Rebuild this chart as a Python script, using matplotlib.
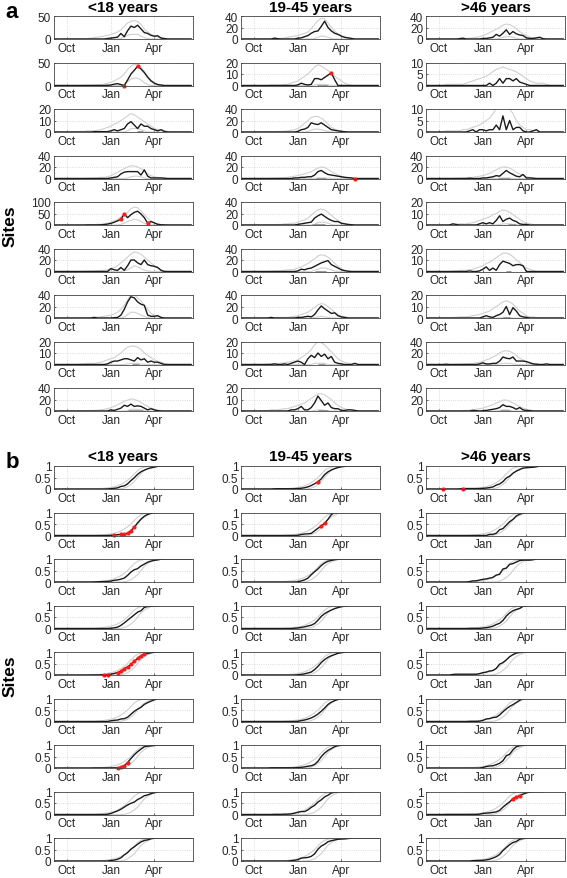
import numpy as np
import matplotlib
matplotlib.use('Agg')
import matplotlib.pyplot as plt

plt.rcParams['font.family'] = ['Liberation Sans', 'DejaVu Sans']

# semanas desde principios de septiembre (k = 0..41); datos guardados de k=6 a k=37
N_WEEKS = 42
FIRST = 6
B_FIRST = 13  # curvas grises del panel b guardadas de k=13 a k=32

groups = ['<18 years', '19-45 years', '>46 years']
month_ticks = [3.86, 17.0, 29.86]
month_labels = ['Oct', 'Jan', 'Apr']

# ---------------- panel a: casos semanales ----------------
ymax_u18 = [50, 50, 20, 40, 100, 40, 40, 20, 40]
ymax_1945 = [40, 20, 40, 40, 40, 40, 40, 20, 20]
ymax_46 = [40, 10, 10, 40, 20, 20, 20, 40, 40]

black_u18 = [
    [0, 0, 0, 0, 0, 0, 0, 0, 0, 0, 1, 2, 3, 4, 12, 5, 18, 28, 25, 30, 22, 14, 12, 8, 6, 7, 2, 1, 0, 0, 0, 0],
    [0, 0, 0, 0, 0, 0, 0, 0, 0, 0, 0.5, 1, 3, 4, 2, 0, 12, 25, 33, 42, 36, 28, 18, 10, 5, 2, 1, 0, 0, 0, 0, 0],
    [0, 0, 0, 0, 0, 0, 0.3, 0.3, 0.3, 0.3, 0.3, 1, 2, 1, 2, 3, 7, 9, 6, 3, 7, 5, 5, 3, 2, 1, 2, 0.5, 0, 0, 0, 0],
    [0, 0, 0, 0, 0, 0, 0, 0, 0, 0, 0, 1, 2, 3, 8, 11, 12, 12, 12, 12, 6, 15, 4, 1, 1, 1, 1, 0.5, 0, 0, 0, 0],
    [0, 0, 0, 0, 0.5, 0.5, 0.5, 0.5, 1, 2, 4, 7, 12, 18, 25, 48, 32, 45, 55, 60, 48, 32, 8, 15, 9, 3, 1, 0.5, 0, 0, 0, 0],
    [0, 0, 0, 0, 0, 0, 0, 0, 0, 0, 0, 5, 3, 2, 7, 2, 10, 20, 20, 15, 12, 20, 12, 10, 9, 7, 2, 0, 0, 0, 0, 0],
    [0, 0, 0, 0, 0, 0, 1, 0, 0, 0, 0, 0, 0.5, 1, 5, 15, 28, 37, 35, 28, 24, 22, 5, 3, 3, 4, 1, 0, 0, 0, 0, 0],
    [0, 0, 0, 0, 0, 0, 0, 0, 0, 0, 0.5, 2, 3, 3, 4, 5, 5, 4, 3, 6, 4, 5, 2, 3, 2, 2, 1, 0, 0, 0, 0, 0],
    [0, 0, 0, 0, 0, 0, 0, 0, 0, 0, 0, 2, 1, 3, 5, 10, 8, 12, 8, 9, 8, 5, 2, 4, 2, 0.5, 0, 0, 0, 0, 0, 0],
]
black_1945 = [
    [0, 0, 0, 0, 1.5, 0.5, 0, 0, 0, 0, 0, 1.5, 2, 4, 6, 10, 13, 14, 22, 31, 20, 14, 10, 8, 5, 3, 2, 1, 0, 0, 0, 0],
    [0, 0, 0, 0, 0, 0, 0, 0, 0, 0, 0, 0.5, 2, 1, 0.5, 1, 6, 6, 5, 7, 9, 11, 5, 0, 0, 0, 0, 0, 0, 0, 0, 0],
    [0, 0, 0, 0, 0, 0, 0, 0, 0, 0, 0, 1, 4, 5, 8, 16, 14, 13, 16, 12, 8, 4, 3, 2, 1, 0.5, 0, 0, 0, 0, 0, 0],
    [0, 0, 0, 0, 0, 0, 0, 0, 0, 0, 1, 1, 2, 2, 3, 3, 6, 12, 14, 10, 7, 6, 5, 4, 3, 2, 1.5, 1, 0, 0, 0, 0],
    [0, 0, 0, 0, 0, 0, 0, 0, 0, 0, 0, 1, 2, 3, 4, 5, 12, 16, 19, 15, 11, 8, 6, 6, 3, 2, 1, 0.5, 0, 0, 0, 0],
    [0, 0, 0, 0, 0, 0, 0, 0, 0, 0, 0, 1, 4, 3, 5, 6, 9, 12, 15, 17, 19, 12, 9, 6, 3, 1.5, 0.5, 0, 0, 0, 0, 0],
    [0, 0, 0, 1, 0, 0, 0, 0, 0, 0, 0, 1, 1, 2, 3, 2, 6, 14, 21, 16, 12, 8, 9, 4, 2, 1, 0, 0, 0, 0, 0, 0],
    [0, 0, 0, 0, 0.5, 0, 0, 0.5, 0, 1, 2, 3, 2, 0, 5, 8, 6, 10, 7, 9, 5, 7, 2, 1, 0.5, 0, 0, 0, 1, 0, 0, 0],
    [0, 0, 0, 0, 0, 0, 0, 0, 0, 1, 1, 2, 4, 1, 1, 3, 7, 13, 9, 5, 7, 3, 2, 2, 0.5, 0.5, 1, 1, 0.5, 0, 0, 0],
]
black_46 = [
    [0, 0, 0, 0, 0.5, 1.5, 0, 0, 0, 0, 0, 1, 1, 2, 3, 8, 5, 10, 16, 8, 13, 9, 7, 6, 2, 1, 1, 2, 3, 0.5, 0, 0],
    [0, 0, 0, 0, 0, 0, 0, 0, 0, 0, 0, 0, 0, 1, 0, 1, 3, 1, 3, 3, 2, 3, 1.5, 1, 0.5, 0, 0, 0, 0, 0, 0, 0],
    [0, 0, 0, 0, 0, 0, 0, 0.5, 1, 0, 1, 1, 0.5, 1, 1, 3, 1, 7, 1, 5, 1, 2, 2, 0.5, 0, 0, 0.5, 1, 0, 0, 0, 0],
    [0, 0, 0, 0, 0, 0, 0, 0.5, 0, 0, 0, 1, 1, 2, 3, 5, 4, 9, 14, 10, 7, 4, 3, 7, 1, 1, 0.5, 0, 0, 0, 0, 0],
    [0, 0, 1, 0.5, 0, 0, 0, 0, 0, 0, 1, 2, 1, 2, 1, 4, 8, 3, 5, 6, 4, 3, 1, 0.5, 0.5, 0, 0, 0, 0, 0, 0, 0],
    [0, 0, 0, 0, 0, 0, 0, 0.5, 0, 0, 0.5, 2, 4, 1, 3, 1, 6, 9, 8, 7, 5, 6, 6, 5, 0, 0, 0, 0, 0, 0, 0, 0],
    [0, 0, 0, 0, 0, 0, 0, 0, 0, 0, 0, 1, 2, 1, 0.5, 2, 3, 5, 10, 3, 9, 6, 2, 1, 0.5, 0, 0, 0, 0, 0, 0, 0],
    [0.5, 0, 0, 0, 0, 0, 0, 0, 0, 0, 1, 3, 1, 1, 2, 2, 6, 13, 11, 10, 13, 6, 6, 6, 5, 3, 1, 0.5, 0, 0, 1, 0],
    [0, 0, 0, 0, 0, 0, 0, 0, 1, 0.5, 0, 0.5, 1, 2, 3, 4, 6, 11, 8, 8, 6, 3, 6, 2, 1, 0.5, 0, 0, 0, 0, 0, 0],
]

upper_u18 = [
    [0, 0, 1, 1, 1, 2, 3, 4, 5, 6, 8, 10, 12, 15, 20, 28, 35, 38, 40, 38, 32, 22, 15, 10, 7, 4, 2, 1, 0, 0, 0, 0],
    [0, 0, 0.5, 0.5, 1, 1, 1.5, 2, 2, 3, 5, 7, 10, 14, 18, 25, 35, 42, 46, 45, 40, 30, 20, 12, 6, 3, 1, 0, 0, 0, 0, 0],
    [0, 0, 0.5, 0.5, 1, 1, 1, 1.5, 2, 3, 4, 5, 7, 8, 10, 12, 14, 16, 15, 13, 11, 9, 7, 5, 3, 2, 2, 1, 0.5, 0, 0, 0],
    [0, 0, 0, 0, 0.5, 0.5, 1, 1, 2, 2, 3, 5, 8, 11, 14, 17, 20, 22, 22, 20, 17, 14, 8, 5, 3, 2, 1, 0, 0, 0, 0, 0],
    [0, 0, 0, 1, 1, 2, 2, 3, 3, 5, 8, 12, 18, 25, 35, 45, 55, 70, 78, 75, 62, 45, 30, 18, 10, 5, 2, 1, 0, 0, 0, 0],
    [0, 0, 0, 0.5, 0.5, 1, 1, 1.5, 2, 2, 3, 5, 7, 10, 15, 20, 25, 30, 34, 33, 30, 25, 20, 15, 10, 6, 3, 1, 0, 0, 0, 0],
    [0, 0, 0, 0.5, 0.5, 1, 1, 1.5, 2, 3, 4, 5, 7, 10, 15, 22, 32, 40, 40, 35, 30, 22, 15, 8, 5, 3, 1, 0, 0, 0, 0, 0],
    [0, 0, 0.5, 0.5, 1, 1, 1, 1.5, 2, 3, 4, 5, 6, 8, 10, 13, 15, 16, 16, 15, 13, 10, 8, 6, 4, 3, 2, 1, 0, 0, 0, 0],
    [0, 0, 0, 0.5, 0.5, 1, 1, 1.5, 2, 3, 4, 6, 8, 11, 14, 17, 19, 21, 20, 18, 15, 11, 8, 5, 3, 2, 1, 0, 0, 0, 0, 0],
]
upper_1945 = [
    [0, 0, 0, 0.5, 0.5, 1, 1, 2, 3, 4, 5, 6, 8, 10, 12, 18, 25, 32, 36, 35, 28, 20, 14, 9, 5, 3, 1, 0, 0, 0, 0, 0],
    [0, 0, 0, 0.5, 0.5, 0.5, 0.5, 1, 1, 2, 3, 4, 6, 8, 10, 13, 16, 18, 17, 15, 13, 11, 8, 6, 4, 2, 1, 0, 0, 0, 0, 0],
    [0, 0, 0, 0.5, 0.5, 1, 1, 1.5, 2, 3, 4, 6, 10, 15, 20, 25, 27, 27, 24, 20, 14, 8, 5, 3, 1, 0.5, 0, 0, 0, 0, 0, 0],
    [0, 0, 0, 0.5, 0.5, 1, 1, 1.5, 2, 3, 4, 5, 7, 8, 10, 12, 15, 18, 20, 19, 16, 12, 9, 6, 4, 2, 1, 0, 0, 0, 0, 0],
    [0, 0, 0, 0.5, 0.5, 1, 1, 2, 2, 3, 3, 5, 7, 9, 12, 17, 22, 26, 28, 26, 22, 17, 12, 8, 4, 2, 1, 0, 0, 0, 0, 0],
    [0, 0, 0, 0.5, 0.5, 1, 1, 2, 3, 3, 4, 6, 8, 11, 14, 18, 22, 27, 29, 28, 25, 20, 14, 9, 5, 2, 1, 0, 0, 0, 0, 0],
    [0, 0, 0, 0.5, 0.5, 1, 1, 1, 1, 2, 3, 4, 6, 8, 10, 14, 18, 23, 25, 24, 20, 15, 10, 6, 3, 2, 1, 0, 0, 0, 0, 0],
    [0, 0, 0.5, 0.5, 1, 1, 1, 1.5, 2, 2.5, 3, 4, 6, 8, 10, 13, 17, 20, 19, 17, 14, 11, 8, 5, 3, 2, 1, 0.5, 0, 0, 0, 0],
    [0, 0.5, 0.5, 1, 1, 1, 1.5, 2, 2, 3, 4, 5, 6, 7, 9, 11, 13, 15, 15, 14, 12, 10, 7, 5, 3, 2, 1, 0.5, 0, 0, 0, 0],
]
upper_46 = [
    [0, 0, 0, 0.5, 0.5, 1, 1, 1.5, 2, 3, 4, 6, 8, 11, 14, 17, 20, 24, 26, 25, 22, 18, 13, 9, 6, 3, 2, 1, 0, 0, 0, 0],
    [0.5, 0.5, 0.5, 0.5, 0.5, 0.5, 1, 1.5, 2, 2.5, 3, 3.5, 4, 5, 6, 7, 7.5, 8, 7.5, 7, 6.5, 6, 5, 4, 3, 2, 1.5, 1, 1, 1, 0.5, 0],
    [0.5, 0.5, 0.5, 0.5, 0.5, 1, 1, 1.5, 2, 2.5, 3, 4, 5, 6, 8, 10, 11, 13, 12, 10, 8, 5, 3, 2, 1, 1, 0.5, 0.5, 0, 0, 0, 0],
    [0, 0, 0, 0.5, 0.5, 1, 1, 1.5, 2, 3, 4, 5, 7, 9, 12, 15, 18, 20, 20, 18, 15, 11, 8, 6, 3, 2, 1, 0, 0, 0, 0, 0],
    [0, 0, 0.5, 0.5, 1, 1, 1, 1.5, 2, 3, 4, 5, 6, 7, 9, 10, 12, 13, 12.5, 11, 9, 7, 5, 3, 2, 1, 0.5, 0, 0, 0, 0, 0],
    [0, 0, 0.5, 0.5, 1, 1, 1, 1.5, 2, 3, 4, 5, 7, 8, 10, 12, 14, 16, 16, 15, 13, 10, 8, 5, 3, 2, 1, 0, 0, 0, 0, 0],
    [0, 0, 0.5, 0.5, 1, 1, 1, 1.5, 2, 2.5, 3, 4, 5, 6, 8, 10, 12, 14, 15, 14, 12, 9, 6, 4, 2, 1, 1, 0.5, 0, 0, 0, 0],
    [0, 0, 0, 0.5, 0.5, 1, 1, 1.5, 2, 3, 4, 6, 8, 10, 13, 16, 20, 23, 24, 23, 20, 16, 11, 8, 5, 3, 2, 1, 0, 0, 0, 0],
    [0, 0, 0, 0.5, 0.5, 1, 1, 1.5, 2, 3, 4, 5, 7, 9, 11, 14, 16, 19, 19, 17, 14, 11, 8, 5, 3, 2, 1, 0, 0, 0, 0, 0],
]

lower_u18 = [
    [0] * 14 + [1, 4, 8, 10, 10, 10, 6, 3, 1] + [0] * 9,
    [0] * 15 + [2, 8, 14, 16, 16, 12, 6, 2] + [0] * 9,
    [0] * 16 + [1, 3, 3, 3, 2, 1] + [0] * 10,
    [0] * 16 + [1, 3, 4, 4, 3, 1] + [0] * 10,
    [0] * 14 + [3, 8, 15, 20, 25, 22, 15, 8, 3, 1] + [0] * 8,
    [0] * 15 + [1, 3, 6, 10, 8, 5, 2, 1] + [0] * 9,
    [0] * 15 + [2, 6, 10, 10, 8, 5, 3, 1] + [0] * 9,
    [0] * 16 + [0.5, 1, 1, 1, 0.5] + [0] * 11,
    [0] * 16 + [1, 3, 3, 3, 2, 1] + [0] * 10,
]
lower_1945 = [
    [0] * 16 + [1, 3, 5, 5, 3, 1] + [0] * 10,
    [0] * 16 + [0.5, 1, 1, 1, 0.5] + [0] * 11,
    [0] * 14 + [1, 3, 5, 5, 4, 2, 1] + [0] * 11,
    [0] * 16 + [0.5, 1, 1, 1, 0.5] + [0] * 11,
    [0] * 16 + [1, 4, 5, 5, 3, 1] + [0] * 10,
    [0] * 16 + [2, 4, 6, 6, 5, 3, 1] + [0] * 9,
    [0] * 16 + [1, 2, 3, 2, 1] + [0] * 11,
    [0] * 16 + [1, 1, 1, 1] + [0] * 12,
    [0] * 16 + [0.5, 1, 1, 0.5] + [0] * 12,
]
lower_46 = [
    [0] * 16 + [1, 3, 4, 4, 3, 1] + [0] * 10,
    [0] * 32,
    [0] * 32,
    [0] * 16 + [0.5, 1, 1, 1] + [0] * 12,
    [0] * 16 + [0.5, 1, 1, 1, 0.5] + [0] * 11,
    [0] * 32,
    [0] * 17 + [0.5, 0.5] + [0] * 13,
    [0] * 16 + [1, 2, 2, 2, 1] + [0] * 11,
    [0] * 16 + [1, 2, 2, 1] + [0] * 12,
]

# barra gris en y=0 (semana inicio, semana fin)
bars_u18 = [None, None, (24.8, 26.6), None, None, None, None, (23.2, 25.5), (22.2, 26.7)]
bars_1945 = [None, (22.7, 26.0), None, (22.5, 25.5), (21.1, 25.1), (22.0, 25.5), None, (23.0, 25.0), (23.0, 26.0)]
bars_46 = [None, None, None, (21.6, 25.1), (24.4, 26.8), (24.0, 25.5), (23.0, 25.0), None, (22.0, 25.0)]

# semanas marcadas en rojo
red_a_u18 = [[], [21, 25], [], [], [20, 21, 28], [], [], [], []]
red_a_1945 = [[], [27], [], [34], [], [], [], [], []]
red_a_46 = [[], [], [], [], [], [], [], [], []]

# ---------------- panel b: proporcion acumulada ----------------
red_b_u18 = [[], [18, 20, 21, 22, 23, 24], [], [], [15, 16, 19, 20, 21, 22, 23, 24, 25, 26, 27], [], [19, 20, 21, 22], [], []]
red_b_1945 = [[23], [24, 25], [], [], [], [], [], [], []]
red_b_46 = [[5, 11], [], [], [], [], [], [], [26, 27, 28], []]

early_u18 = [
    [0.01, 0.02, 0.03, 0.05, 0.07, 0.1, 0.14, 0.2, 0.28, 0.38, 0.5, 0.65, 0.8, 0.9, 0.95, 0.98, 1, 1, 1, 1],
    [0.01, 0.02, 0.03, 0.05, 0.07, 0.1, 0.14, 0.2, 0.28, 0.38, 0.5, 0.65, 0.8, 0.9, 0.95, 0.98, 1, 1, 1, 1],
    [0.02, 0.03, 0.05, 0.07, 0.1, 0.14, 0.2, 0.28, 0.38, 0.5, 0.65, 0.8, 0.9, 0.95, 0.98, 1, 1, 1, 1, 1],
    [0.02, 0.03, 0.05, 0.07, 0.1, 0.14, 0.2, 0.28, 0.38, 0.5, 0.65, 0.8, 0.9, 0.95, 0.98, 1, 1, 1, 1, 1],
    [0.02, 0.03, 0.05, 0.07, 0.1, 0.14, 0.2, 0.28, 0.38, 0.5, 0.65, 0.8, 0.9, 0.95, 0.98, 1, 1, 1, 1, 1],
    [0.02, 0.03, 0.05, 0.07, 0.1, 0.14, 0.2, 0.28, 0.38, 0.5, 0.65, 0.8, 0.9, 0.95, 0.98, 1, 1, 1, 1, 1],
    [0.01, 0.02, 0.03, 0.05, 0.07, 0.1, 0.14, 0.2, 0.28, 0.38, 0.5, 0.65, 0.8, 0.9, 0.95, 0.98, 1, 1, 1, 1],
    [0.02, 0.03, 0.05, 0.07, 0.1, 0.14, 0.2, 0.28, 0.38, 0.5, 0.65, 0.8, 0.9, 0.95, 0.98, 1, 1, 1, 1, 1],
    [0.01, 0.02, 0.03, 0.05, 0.07, 0.1, 0.14, 0.2, 0.28, 0.38, 0.5, 0.65, 0.8, 0.9, 0.95, 0.98, 1, 1, 1, 1],
]
late_u18 = [
    [0, 0, 0, 0, 0, 0, 0, 0.01, 0.04, 0.1, 0.2, 0.32, 0.5, 0.68, 0.8, 0.88, 0.95, 0.98, 1, 1],
    [0, 0, 0, 0, 0, 0, 0, 0.01, 0.04, 0.1, 0.2, 0.32, 0.5, 0.68, 0.8, 0.88, 0.95, 0.98, 1, 1],
    [0, 0, 0, 0, 0, 0, 0, 0, 0.01, 0.04, 0.1, 0.2, 0.32, 0.5, 0.68, 0.8, 0.88, 0.95, 0.98, 1],
    [0, 0, 0, 0, 0, 0, 0, 0.01, 0.04, 0.1, 0.2, 0.32, 0.5, 0.68, 0.8, 0.88, 0.95, 0.98, 1, 1],
    [0, 0, 0, 0, 0, 0, 0, 0.01, 0.04, 0.1, 0.2, 0.32, 0.5, 0.68, 0.8, 0.88, 0.95, 0.98, 1, 1],
    [0, 0, 0, 0, 0, 0, 0, 0.01, 0.04, 0.1, 0.2, 0.32, 0.5, 0.68, 0.8, 0.88, 0.95, 0.98, 1, 1],
    [0, 0, 0, 0, 0, 0, 0, 0.01, 0.04, 0.1, 0.2, 0.32, 0.5, 0.68, 0.8, 0.88, 0.95, 0.98, 1, 1],
    [0, 0, 0, 0, 0, 0, 0, 0, 0.01, 0.04, 0.1, 0.2, 0.32, 0.5, 0.68, 0.8, 0.88, 0.95, 0.98, 1],
    [0, 0, 0, 0, 0, 0, 0, 0.01, 0.04, 0.1, 0.2, 0.32, 0.5, 0.68, 0.8, 0.88, 0.95, 0.98, 1, 1],
]
early_1945 = [
    [0.01, 0.02, 0.03, 0.05, 0.07, 0.1, 0.14, 0.2, 0.28, 0.38, 0.5, 0.65, 0.8, 0.9, 0.95, 0.98, 1, 1, 1, 1],
    [0.01, 0.02, 0.03, 0.05, 0.07, 0.1, 0.14, 0.2, 0.28, 0.38, 0.5, 0.65, 0.8, 0.9, 0.95, 0.98, 1, 1, 1, 1],
    [0.02, 0.03, 0.05, 0.07, 0.1, 0.14, 0.2, 0.28, 0.38, 0.5, 0.65, 0.8, 0.9, 0.95, 0.98, 1, 1, 1, 1, 1],
    [0.01, 0.02, 0.03, 0.05, 0.07, 0.1, 0.14, 0.2, 0.28, 0.38, 0.5, 0.65, 0.8, 0.9, 0.95, 0.98, 1, 1, 1, 1],
    [0.01, 0.02, 0.03, 0.05, 0.07, 0.1, 0.14, 0.2, 0.28, 0.38, 0.5, 0.65, 0.8, 0.9, 0.95, 0.98, 1, 1, 1, 1],
    [0.01, 0.02, 0.03, 0.05, 0.07, 0.1, 0.14, 0.2, 0.28, 0.38, 0.5, 0.65, 0.8, 0.9, 0.95, 0.98, 1, 1, 1, 1],
    [0.01, 0.02, 0.03, 0.05, 0.07, 0.1, 0.14, 0.2, 0.28, 0.38, 0.5, 0.65, 0.8, 0.9, 0.95, 0.98, 1, 1, 1, 1],
    [0.02, 0.03, 0.05, 0.07, 0.1, 0.14, 0.2, 0.28, 0.38, 0.5, 0.65, 0.8, 0.9, 0.95, 0.98, 1, 1, 1, 1, 1],
    [0.02, 0.03, 0.05, 0.07, 0.1, 0.14, 0.2, 0.28, 0.38, 0.5, 0.65, 0.8, 0.9, 0.95, 0.98, 1, 1, 1, 1, 1],
]
late_1945 = [
    [0, 0, 0, 0, 0, 0, 0, 0.01, 0.04, 0.1, 0.2, 0.32, 0.5, 0.68, 0.8, 0.88, 0.95, 0.98, 1, 1],
    [0, 0, 0, 0, 0, 0, 0, 0.01, 0.04, 0.1, 0.2, 0.32, 0.5, 0.68, 0.8, 0.88, 0.95, 0.98, 1, 1],
    [0, 0, 0, 0, 0, 0, 0.01, 0.04, 0.1, 0.2, 0.32, 0.5, 0.68, 0.8, 0.88, 0.95, 0.98, 1, 1, 1],
    [0, 0, 0, 0, 0, 0, 0, 0.01, 0.04, 0.1, 0.2, 0.32, 0.5, 0.68, 0.8, 0.88, 0.95, 0.98, 1, 1],
    [0, 0, 0, 0, 0, 0, 0, 0.01, 0.04, 0.1, 0.2, 0.32, 0.5, 0.68, 0.8, 0.88, 0.95, 0.98, 1, 1],
    [0, 0, 0, 0, 0, 0, 0, 0.01, 0.04, 0.1, 0.2, 0.32, 0.5, 0.68, 0.8, 0.88, 0.95, 0.98, 1, 1],
    [0, 0, 0, 0, 0, 0, 0, 0.01, 0.04, 0.1, 0.2, 0.32, 0.5, 0.68, 0.8, 0.88, 0.95, 0.98, 1, 1],
    [0, 0, 0, 0, 0, 0, 0, 0.01, 0.04, 0.1, 0.2, 0.32, 0.5, 0.68, 0.8, 0.88, 0.95, 0.98, 1, 1],
    [0, 0, 0, 0, 0, 0, 0, 0.01, 0.04, 0.1, 0.2, 0.32, 0.5, 0.68, 0.8, 0.88, 0.95, 0.98, 1, 1],
]
early_46 = [
    [0.01, 0.02, 0.03, 0.05, 0.07, 0.1, 0.14, 0.2, 0.28, 0.38, 0.5, 0.65, 0.8, 0.9, 0.95, 0.98, 1, 1, 1, 1],
    [0.01, 0.02, 0.03, 0.05, 0.07, 0.1, 0.14, 0.2, 0.28, 0.38, 0.5, 0.65, 0.8, 0.9, 0.95, 0.98, 1, 1, 1, 1],
    [0.01, 0.02, 0.03, 0.05, 0.07, 0.1, 0.14, 0.2, 0.28, 0.38, 0.5, 0.65, 0.8, 0.9, 0.95, 0.98, 1, 1, 1, 1],
    [0.01, 0.02, 0.03, 0.05, 0.07, 0.1, 0.14, 0.2, 0.28, 0.38, 0.5, 0.65, 0.8, 0.9, 0.95, 0.98, 1, 1, 1, 1],
    [0.01, 0.02, 0.03, 0.05, 0.07, 0.1, 0.14, 0.2, 0.28, 0.38, 0.5, 0.65, 0.8, 0.9, 0.95, 0.98, 1, 1, 1, 1],
    [0.01, 0.02, 0.03, 0.05, 0.07, 0.1, 0.14, 0.2, 0.28, 0.38, 0.5, 0.65, 0.8, 0.9, 0.95, 0.98, 1, 1, 1, 1],
    [0.01, 0.02, 0.03, 0.05, 0.07, 0.1, 0.14, 0.2, 0.28, 0.38, 0.5, 0.65, 0.8, 0.9, 0.95, 0.98, 1, 1, 1, 1],
    [0.01, 0.02, 0.03, 0.05, 0.07, 0.1, 0.14, 0.2, 0.28, 0.38, 0.5, 0.65, 0.8, 0.9, 0.95, 0.98, 1, 1, 1, 1],
    [0.01, 0.02, 0.03, 0.05, 0.07, 0.1, 0.14, 0.2, 0.28, 0.38, 0.5, 0.65, 0.8, 0.9, 0.95, 0.98, 1, 1, 1, 1],
]
late_46 = [
    [0, 0, 0, 0, 0, 0, 0, 0.01, 0.04, 0.1, 0.2, 0.32, 0.5, 0.68, 0.8, 0.88, 0.95, 0.98, 1, 1],
    [0, 0, 0, 0, 0, 0, 0, 0.01, 0.04, 0.1, 0.2, 0.32, 0.5, 0.68, 0.8, 0.88, 0.95, 0.98, 1, 1],
    [0, 0, 0, 0, 0, 0, 0, 0, 0.01, 0.04, 0.1, 0.2, 0.32, 0.5, 0.68, 0.8, 0.88, 0.95, 0.98, 1],
    [0, 0, 0, 0, 0, 0, 0, 0.01, 0.04, 0.1, 0.2, 0.32, 0.5, 0.68, 0.8, 0.88, 0.95, 0.98, 1, 1],
    [0, 0, 0, 0, 0, 0, 0, 0.01, 0.04, 0.1, 0.2, 0.32, 0.5, 0.68, 0.8, 0.88, 0.95, 0.98, 1, 1],
    [0, 0, 0, 0, 0, 0, 0, 0.01, 0.04, 0.1, 0.2, 0.32, 0.5, 0.68, 0.8, 0.88, 0.95, 0.98, 1, 1],
    [0, 0, 0, 0, 0, 0, 0, 0.01, 0.04, 0.1, 0.2, 0.32, 0.5, 0.68, 0.8, 0.88, 0.95, 0.98, 1, 1],
    [0, 0, 0, 0, 0, 0, 0, 0.01, 0.04, 0.1, 0.2, 0.32, 0.5, 0.68, 0.8, 0.88, 0.95, 0.98, 1, 1],
    [0, 0, 0, 0, 0, 0, 0, 0.01, 0.04, 0.1, 0.2, 0.32, 0.5, 0.68, 0.8, 0.88, 0.95, 0.98, 1, 1],
]

black_all = [black_u18, black_1945, black_46]
upper_all = [upper_u18, upper_1945, upper_46]
lower_all = [lower_u18, lower_1945, lower_46]
ymax_all = [ymax_u18, ymax_1945, ymax_46]
bars_all = [bars_u18, bars_1945, bars_46]
red_a_all = [red_a_u18, red_a_1945, red_a_46]
red_b_all = [red_b_u18, red_b_1945, red_b_46]
early_all = [early_u18, early_1945, early_46]
late_all = [late_u18, late_1945, late_46]


def weekly(vals):
    out = np.zeros(N_WEEKS)
    out[FIRST:FIRST + len(vals)] = vals
    return out


def cumulative_grey(vals):
    out = np.ones(N_WEEKS)
    out[:B_FIRST] = 0
    out[B_FIRST:B_FIRST + len(vals)] = vals
    return out


# ---------------- figura ----------------
W, H = 567, 879
fig = plt.figure(figsize=(W / 100, H / 100), dpi=100)

col_left = [54, 241, 426]
ax_w, ax_h = 139, 23
row_step = 46.5
top_a, top_b = 17, 467

weeks = np.arange(N_WEEKS)
BLACK = '#1a1a1a'
GREY = '#d0d0d0'
RED = '#ff1a1a'


def style_axes(ax, ymax, yticks):
    ax.set_xlim(0, 41.55)
    ax.set_ylim(0, ymax)
    ax.set_xticks(month_ticks)
    ax.set_xticklabels(month_labels)
    ax.set_yticks(yticks)
    ax.set_yticklabels([f'{t:g}' for t in yticks])
    ax.grid(True, ls=':', color='#cfcfcf', lw=0.6)
    ax.tick_params(direction='in', length=1.5, width=0.5, labelsize=8.5,
                   colors='#262626', pad=2)
    for sp in ax.spines.values():
        sp.set_color('#454545')
        sp.set_linewidth(0.6)


def make_ax(col, top):
    return fig.add_axes([col_left[col] / W, 1 - (top + ax_h) / H, ax_w / W, ax_h / H])


for c in range(3):
    for r in range(9):
        # panel a
        ax = make_ax(c, top_a + r * row_step)
        black = weekly(black_all[c][r])
        ax.plot(weeks, weekly(upper_all[c][r]), color=GREY, lw=0.8)
        ax.plot(weeks, weekly(lower_all[c][r]), color=GREY, lw=0.8)
        bar = bars_all[c][r]
        if bar is not None:
            ax.plot(bar, [0, 0], color='#9a9a9a', lw=2.2, solid_capstyle='butt')
        ax.plot(weeks, black, color=BLACK, lw=1.0)
        red = red_a_all[c][r]
        if red:
            ax.plot(red, black[red], 'o', color=RED, ms=3, mec='none', clip_on=False)
        ymax = ymax_all[c][r]
        yt = [0, 50] if ymax == 50 else [0, ymax / 2, ymax]
        style_axes(ax, ymax, yt)

        # panel b
        ax = make_ax(c, top_b + r * row_step)
        cum = np.cumsum(black) / black.sum()
        ax.plot(weeks, cumulative_grey(early_all[c][r]), color=GREY, lw=0.8)
        ax.plot(weeks, cumulative_grey(late_all[c][r]), color=GREY, lw=0.8)
        ax.plot(weeks, cum, color=BLACK, lw=1.0)
        red = red_b_all[c][r]
        if red:
            ax.plot(red, cum[red], 'o', color=RED, ms=3, mec='none', clip_on=False)
        style_axes(ax, 1, [0, 0.5, 1])

# titulos de columnas
for c, g in enumerate(groups):
    xc = (col_left[c] + ax_w / 2) / W
    fig.text(xc, 1 - 8 / H, g, ha='center', va='center', fontsize=11, fontweight='bold')
    fig.text(xc, 1 - 457 / H, g, ha='center', va='center', fontsize=11, fontweight='bold')

fig.text(12 / W, 1 - 13 / H, 'a', ha='center', va='center', fontsize=16, fontweight='bold')
fig.text(12 / W, 1 - 462 / H, 'b', ha='center', va='center', fontsize=16, fontweight='bold')
fig.text(10 / W, 1 - 226 / H, 'Sites', ha='center', va='center', rotation=90,
         fontsize=12.5, fontweight='bold')
fig.text(10 / W, 1 - 676 / H, 'Sites', ha='center', va='center', rotation=90,
         fontsize=12.5, fontweight='bold')

fig.savefig('out.png', dpi=100)
